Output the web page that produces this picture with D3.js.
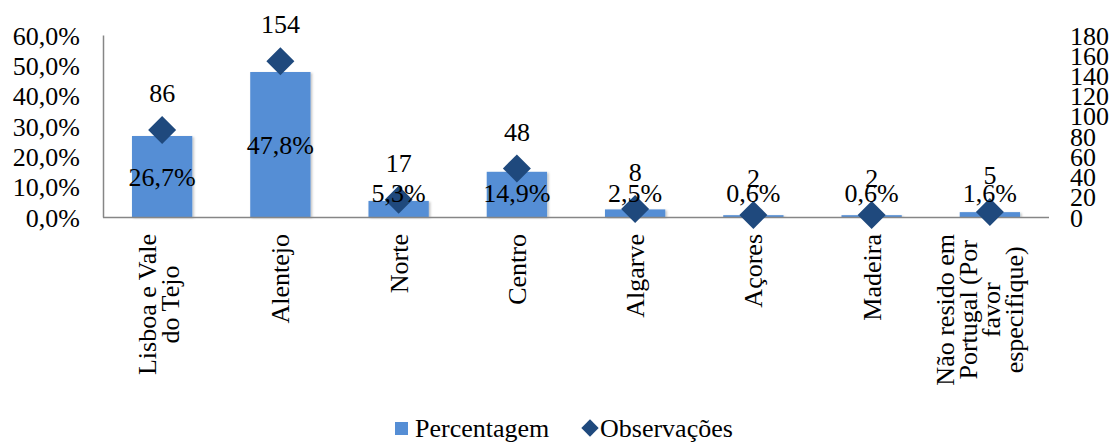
<!DOCTYPE html>
<html>
<head>
<meta charset="utf-8">
<script src="https://cdn.jsdelivr.net/npm/d3@7/dist/d3.min.js"></script>
<style>
  html, body { margin: 0; padding: 0; background: #fff; }
  svg { display: block; }
</style>
</head>
<body>
<svg id="chart" width="1114" height="442"></svg>
<script>
// Regions of residence (line breaks as drawn under the axis)
const categories = [
  ["Lisboa e Vale", "do Tejo"],
  ["Alentejo"],
  ["Norte"],
  ["Centro"],
  ["Algarve"],
  ["Açores"],
  ["Madeira"],
  ["Não resido em", "Portugal (Por", "favor", "especifique)"]
];
// Share of respondents (%) per region
const percentages = [26.7, 47.8, 5.3, 14.9, 2.5, 0.6, 0.6, 1.6];
// Number of observations per region
const observations = [86, 154, 17, 48, 8, 2, 2, 5];
// Axis ticks
const pctTicks = [0, 10, 20, 30, 40, 50, 60];
const obsTicks = [0, 20, 40, 60, 80, 100, 120, 140, 160, 180];

const seriesNames = ["Percentagem", "Observações"];

const barColor = "#558ED5";
const markerColor = "#1F497D";
const axisColor = "#868686";
const FONT = "Liberation Serif";

const svg = d3.select("#chart");

const plot = { left: 103, right: 1049, top: 35, bottom: 217 };

const keys = categories.map(c => c.join(" "));
const x = d3.scaleBand()
  .domain(keys)
  .range([plot.left, plot.right])
  .paddingInner(0.49)
  .paddingOuter(0.245);

const yPct = d3.scaleLinear().domain([0, 60]).range([plot.bottom, plot.top]);
const yObs = d3.scaleLinear().domain([0, 180]).range([plot.bottom, plot.top]);

const fmtPct = v => d3.format(".1f")(v).replace(".", ",") + "%";

// Soft edge on the bars
const defs = svg.append("defs");
const f = defs.append("filter").attr("id", "barShadow")
  .attr("x", "-10%").attr("y", "-10%").attr("width", "130%").attr("height", "130%");
f.append("feDropShadow").attr("dx", 1.5).attr("dy", 1).attr("stdDeviation", 1)
  .attr("flood-color", "#000").attr("flood-opacity", 0.25);

// Left axis (percent)
const leftAxis = d3.axisLeft(yPct).tickValues(pctTicks).tickFormat(fmtPct).tickSize(0).tickPadding(23);
const gL = svg.append("g").attr("transform", `translate(${plot.left},0)`).call(leftAxis);
gL.select(".domain").attr("stroke", axisColor).attr("stroke-width", 1.5);

// Right axis (observations), no axis line
const rightAxis = d3.axisRight(yObs).tickValues(obsTicks).tickSize(0).tickPadding(21);
const gR = svg.append("g").attr("transform", `translate(${plot.right},0)`).call(rightAxis);
gR.select(".domain").remove();

[gL, gR].forEach(g => g.selectAll("text").attr("fill", "#000").attr("dy", "0.35em"));

// Bars
svg.append("g").selectAll("rect")
  .data(percentages)
  .join("rect")
  .attr("x", (d, i) => x(keys[i]))
  .attr("width", x.bandwidth())
  .attr("y", d => yPct(d))
  .attr("height", d => yPct(0) - yPct(d))
  .attr("fill", barColor)
  .attr("filter", "url(#barShadow)");

// Baseline
svg.append("line")
  .attr("x1", plot.left).attr("x2", plot.right)
  .attr("y1", yPct(0) + 0.5).attr("y2", yPct(0) + 0.5)
  .attr("stroke", axisColor).attr("stroke-width", 1.5);

const cx = i => x(keys[i]) + x.bandwidth() / 2;

// Diamonds
const diamond = d3.symbol().type(d3.symbolSquare).size(392);
svg.append("g").selectAll("path")
  .data(observations)
  .join("path")
  .attr("d", diamond)
  .attr("transform", (d, i) => `translate(${cx(i)},${yObs(d)}) rotate(45)`)
  .attr("fill", markerColor);

// Percentage labels
svg.append("g").selectAll("text")
  .data(percentages)
  .join("text")
  .attr("x", (d, i) => cx(i))
  .attr("y", d => Math.min((yPct(d) + yPct(0)) / 2, yPct(0) - 24))
  .attr("text-anchor", "middle")
  .attr("dy", "0.35em")
  .text(fmtPct);

// Observation labels
svg.append("g").selectAll("text")
  .data(observations)
  .join("text")
  .attr("x", (d, i) => cx(i))
  .attr("y", d => yObs(d) - 37)
  .attr("text-anchor", "middle")
  .attr("dy", "0.35em")
  .text(d => d);

// Legend
const legend = svg.append("g");
legend.append("rect").attr("x", 395).attr("y", 422).attr("width", 13).attr("height", 13).attr("fill", barColor);
legend.append("text").attr("x", 415).attr("y", 428).attr("dy", "0.35em").text(seriesNames[0]);
legend.append("path")
  .attr("d", d3.symbol().type(d3.symbolSquare).size(150))
  .attr("transform", "translate(590,428) rotate(45)")
  .attr("fill", markerColor);
legend.append("text").attr("x", 600).attr("y", 428).attr("dy", "0.35em").text(seriesNames[1]);

// Category labels, rotated, lines centred on each other
const labelTop = 234;
const lineStep = 23;
const gX = svg.append("g");
categories.forEach((lines, i) => {
  const g = gX.append("g");
  const texts = lines.map(t => g.append("text").text(t)
    .style("font-family", FONT).style("font-size", "26px"));
  const maxLen = d3.max(texts, t => t.node().getComputedTextLength());
  const n = lines.length;
  const shift = -(n - 1) * 3.5;
  texts.forEach((t, j) => {
    const ox = cx(i) + (j - (n - 1) / 2) * lineStep + shift;
    t.attr("text-anchor", "middle")
      .attr("dy", "0.35em")
      .attr("transform", `translate(${ox},${labelTop + maxLen / 2}) rotate(-90)`);
  });
});

// One typeface for every text in the chart
svg.selectAll("text")
  .style("font-family", FONT)
  .style("font-size", "26px")
  .style("fill", "#000");
</script>
</body>
</html>
